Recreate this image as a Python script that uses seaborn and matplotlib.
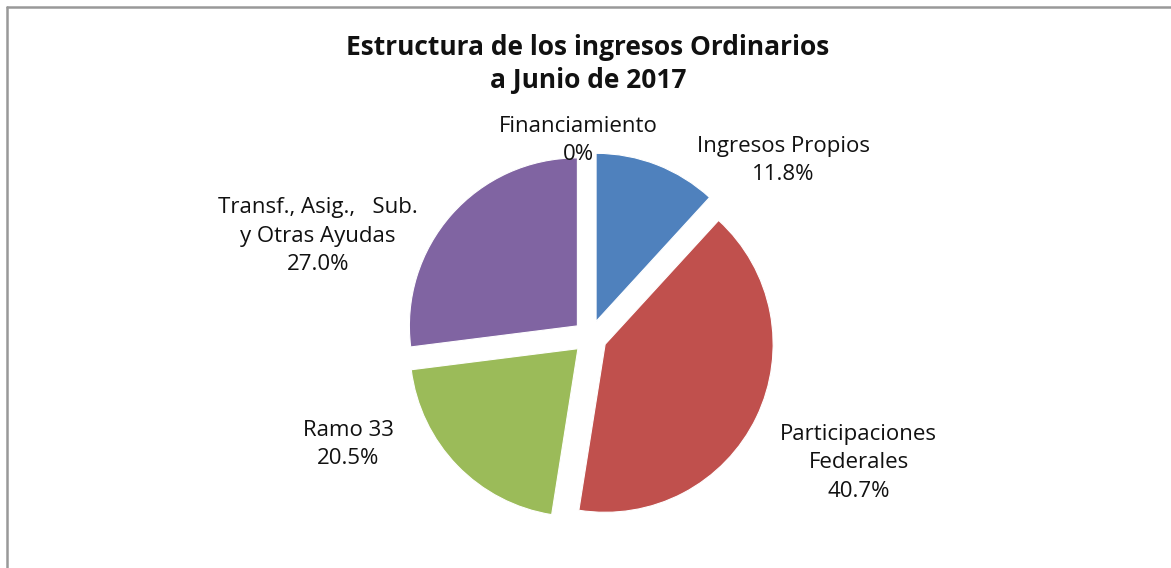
import matplotlib
matplotlib.use("Agg")
import matplotlib.pyplot as plt
import seaborn as sns
from matplotlib.lines import Line2D

# data
categories = ["Ingresos Propios", "Participaciones\nFederales", "Ramo 33",
              "Transf., Asig.,   Sub.\ny Otras Ayudas", "Financiamiento"]
shares = [11.8, 40.7, 20.5, 27.0, 0.0]
share_labels = ["11.8%", "40.7%", "20.5%", "27.0%", "0%"]
colors = ["#4F81BD", "#C0504D", "#9BBB59", "#8064A2", "#F79646"]

# label anchors in pie units (layout only)
label_pos = [(1.15, 1.05), (1.60, -0.75), (-1.44, -0.64), (-1.62, 0.60), (-0.07, 1.17)]

sns.set_theme(style="white")
plt.rcParams['font.family'] = ['Open Sans', 'DejaVu Sans']

fig = plt.figure(figsize=(11.71, 5.68), dpi=100)
W, H = 1171, 568
cx, cy, R = 590, 337, 168
lim = 2.0
size = 2 * lim * R
ax = fig.add_axes([(cx - size / 2) / W, (H - cy - size / 2) / H, size / W, size / H])

ax.pie(shares, colors=colors, startangle=90, counterclock=False,
       explode=[0.1] * len(shares), radius=1,
       wedgeprops=dict(edgecolor="white", linewidth=0.8))
ax.set_xlim(-lim, lim)
ax.set_ylim(-lim, lim)
ax.set_aspect("equal")
ax.axis("off")

for name, pct, (x, y) in zip(categories, share_labels, label_pos):
    ax.text(x, y, f"{name}\n{pct}", ha="center", va="center", fontsize=16,
            color="#111111", linespacing=1.45)

fig.text(588 / W, 1 - 64 / H, "Estructura de los ingresos Ordinarios\na Junio de 2017",
         ha="center", va="center", fontsize=19, fontweight="bold", linespacing=1.32,
         color="#111111")

# chart frame (top and left edges visible)
fig.add_artist(Line2D([7 / W, 1.0], [1 - 7 / H, 1 - 7 / H], transform=fig.transFigure,
                      color="#999999", linewidth=1.8))
fig.add_artist(Line2D([7 / W, 7 / W], [0, 1 - 7 / H], transform=fig.transFigure,
                      color="#999999", linewidth=1.8))

fig.savefig("out.png", dpi=100)
